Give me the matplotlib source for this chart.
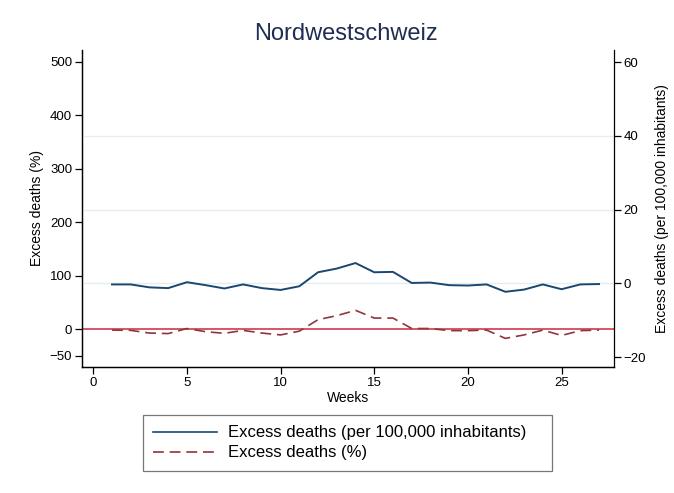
import numpy as np
import matplotlib
matplotlib.use("Agg")
from matplotlib import pyplot as plt
from matplotlib.lines import Line2D

plt.rcParams['font.family'] = ['Liberation Sans', 'DejaVu Sans']

weeks = list(range(1, 28))
# excess deaths per 100,000 inhabitants (right axis)
per100k = [-0.3, -0.3, -1.1, -1.3, 0.3, -0.5, -1.4, -0.3, -1.3, -1.8,
           -0.8, 3.0, 4.0, 5.5, 3.0, 3.1, 0.1, 0.2, -0.5, -0.6,
           -0.3, -2.3, -1.7, -0.3, -1.6, -0.3, -0.2]
# excess deaths in percent (left axis)
pct = [-2, -2.5, -7.5, -8.5, 1, -5, -8, -2.5, -7.5, -11,
       -4, 17.5, 25, 35, 20.5, 20.5, 1, 1, -3, -3,
       -2, -17.5, -11, -2, -12, -3, -2]

left_ticks = [-50, 0, 100, 200, 300, 400, 500]
right_ticks = [-20, 0, 20, 40, 60]
x_ticks = [0, 5, 10, 15, 20, 25]

navy = '#1a476f'
maroon = '#90353b'
redline = '#d2495a'
gridc = '#e4eef0'
dash = (0, (6.5, 3.5))

fig = plt.figure(figsize=(6.74, 4.93), dpi=100)
ax = fig.add_axes([0.1217, 0.2556, 0.7893, 0.643])
ax2 = ax.twinx()

ax.axhline(0, color=redline, lw=1.3, zorder=1)
ax.plot(weeks, pct, color=maroon, lw=1.2, ls=dash, zorder=2)
ax.set_ylim(-71, 522)
ax.set_xlim(-0.6, 27.8)
ax.set_yticks(left_ticks)
ax.set_xticks(x_ticks)

for g in [0, 20, 40]:
    ax2.axhline(g, color=gridc, lw=1.0, zorder=0)
ax2.plot(weeks, per100k, color=navy, lw=1.4, zorder=3)
ax2.set_ylim(-22.7, 63.3)
ax2.set_yticks(right_ticks)

for a in (ax, ax2):
    a.spines['top'].set_visible(False)
    for s in a.spines.values():
        s.set_linewidth(0.9)
    a.tick_params(direction='out', length=5, width=0.9, labelsize=9.5, pad=2)
ax.spines['right'].set_visible(False)

ax.set_ylabel('Excess deaths (%)', fontsize=10)
ax.set_xlabel('Weeks', fontsize=10, labelpad=2)
ax2.set_ylabel('Excess deaths (per 100,000 inhabitants)', fontsize=10, labelpad=6)

fig.text(0.514, 0.932, 'Nordwestschweiz', ha='center', va='center',
         fontsize=17, color='#1f2d52')

handles = [Line2D([], [], color=navy, lw=1.2),
           Line2D([], [], color=maroon, lw=1.2, ls=dash)]
leg = fig.legend(handles, ['Excess deaths (per 100,000 inhabitants)', 'Excess deaths (%)'],
                 loc='upper left', mode='expand',
                 bbox_to_anchor=(143 / 674, 1 - 471 / 493, 409 / 674, 56 / 493),
                 fontsize=12, frameon=True, fancybox=False, handlelength=3.8,
                 borderpad=0.62, borderaxespad=0, labelspacing=0.3,
                 handletextpad=0.7)
leg.get_frame().set_edgecolor('#555555')
leg.get_frame().set_linewidth(0.9)

fig.savefig('out.png', dpi=100)
